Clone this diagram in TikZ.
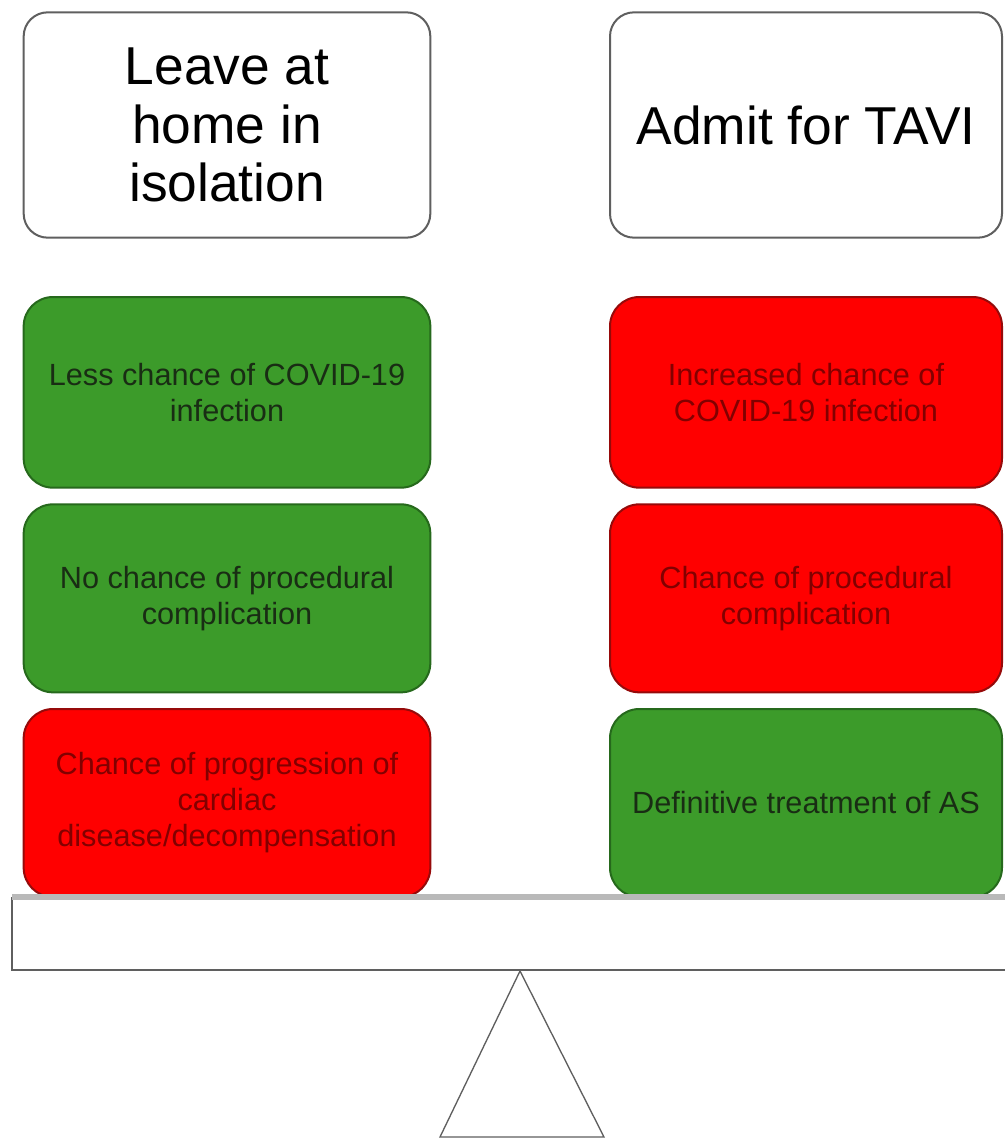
\documentclass[tikz,border=0pt]{standalone}
\usepackage{fontspec}
\setmainfont{Liberation Sans}
\usetikzlibrary{positioning}
\definecolor{probg}{RGB}{60,155,42}
\definecolor{proborder}{RGB}{38,105,28}
\definecolor{protext}{RGB}{25,45,20}
\definecolor{conbg}{RGB}{255,0,0}
\definecolor{conborder}{RGB}{150,10,10}
\definecolor{context}{RGB}{130,0,0}
\definecolor{edgecol}{RGB}{95,95,95}

\begin{document}
\begin{tikzpicture}[
    x=0.75pt, y=-0.75pt,
    choice/.style={
        rectangle,
        rounded corners=18pt,
        draw=edgecol,
        line width=1.5pt,
        fill=white,
        minimum height=169pt,
        align=center,
        font=\fontsize{40}{44}\selectfont
    },
    factor/.style={
        rectangle,
        rounded corners=22pt,
        line width=1.5pt,
        minimum height=141pt,
        align=center,
        font=\fontsize{23}{27}\selectfont
    },
    pro/.style={factor, fill=probg, draw=proborder, text=protext},
    con/.style={factor, fill=conbg, draw=conborder, text=context},
    leftcol/.style={minimum width=305pt},
    rightcol/.style={minimum width=294pt},
    beam/.style={rectangle, draw=edgecol, line width=1.5pt, fill=white,
        minimum width=748.5pt, minimum height=54pt},
    fulcrum/.style={draw=edgecol, line width=1pt, fill=white}
]
\useasboundingbox (0,0) rectangle (1005,1139);

% Options
\node[choice, leftcol] (home) at (227,125) {Leave at\\home in\\isolation};
\node[choice, rightcol] (tavi) at (806,125) {Admit for TAVI};

% Leave at home
\node[pro, leftcol, minimum height=143pt, below=43pt of home] (homeA) {Less chance of COVID-19\\infection};
\node[pro, leftcol, below=11pt of homeA] (homeB) {No chance of procedural\\complication};
\node[con, leftcol, below=11pt of homeB] (homeC) {Chance of progression of\\cardiac\\disease/decompensation};

% Admit for TAVI
\node[con, rightcol, minimum height=143pt, below=43pt of tavi] (taviA) {Increased chance of\\COVID-19 infection};
\node[con, rightcol, below=11pt of taviA] (taviB) {Chance of procedural\\complication};
\node[pro, rightcol, below=11pt of taviB] (taviC) {Definitive treatment of AS};

% Scale
\node[beam] (scale) at (511,934) {};
\draw[line width=4pt, gray!55] ([xshift=1pt]scale.north west) -- (scale.north east);
\coordinate (pivot) at ([xshift=6.75pt]scale.south);
\draw[fulcrum] (pivot) -- ++(-80,166) -- ++(164,0) -- cycle;

\end{tikzpicture}
\end{document}
